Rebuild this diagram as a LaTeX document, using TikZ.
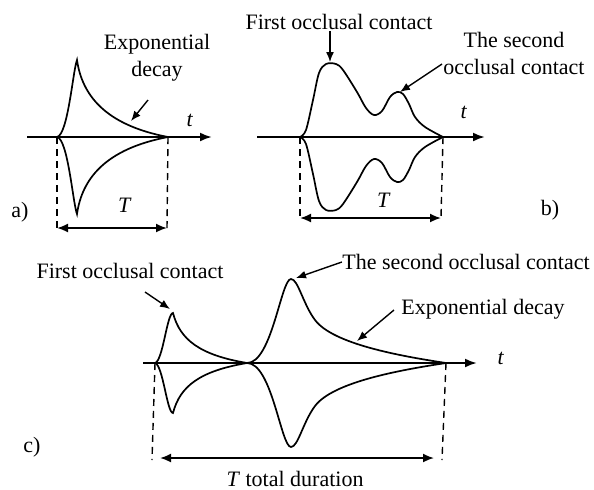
\documentclass[tikz,border=0pt]{standalone}
\usepackage{fontspec}
\setmainfont{Liberation Serif}
\usetikzlibrary{arrows.meta,positioning,calc}

\begin{document}
\begin{tikzpicture}[
      x=0.5pt, y=-0.5pt,
      every node/.style={font=\fontsize{11}{13.5}\selectfont, inner sep=0pt, align=center},
      axis/.style={-{Latex[length=6pt,width=4.5pt]}, line width=1.1pt},
      sig/.style={line width=0.85pt},
      guide/.style={dashed, dash pattern=on 3.5pt off 2.5pt, line width=0.7pt},
      span/.style={{Latex[length=5.5pt,width=4.5pt]}-{Latex[length=5.5pt,width=4.5pt]}, line width=0.9pt},
      note/.style={-{Latex[length=5pt,width=4pt]}, line width=0.7pt}
  ]
    \useasboundingbox (0,0) rectangle (594,489);

    % a) single contact
    \coordinate (a0) at (27,137);
    \coordinate (a1) at (212,137);
    \coordinate (aS) at (57,137);
    \coordinate (aE) at (168,137);
    \draw[axis] (a0) -- (a1);
    \foreach \m in {0,1}{
      \begin{scope}[shift={(0,274*\m)}, yscale={1-2*\m}]
        \draw[sig] (aS) .. controls (68,135) and (73,70) .. (77,60)
                        .. controls (82,95) and (105,125) .. (aE);
      \end{scope}
    }
    \coordinate (aSb) at (57,228);
    \coordinate (aEb) at (167,228);
    \draw[guide] (aS) -- (aSb);
    \draw[guide] (aE) -- (aEb);
    \draw[span] (aSb) -- (aEb);
    \node (aT) at (125,205) {\textit{T}};
    \node (at) at (190,120) {\textit{t}};
    \node (alab) at (20,212) {a)};
    \node (adec) at (157,58) {Exponential\\decay};
    \coordinate (adecpt) at (131,121);
    \draw[note] (148,100) -- (adecpt);

    % b) two contacts
    \coordinate (b0) at (257,137);
    \coordinate (b1) at (485,137);
    \coordinate (bS) at (300,137);
    \coordinate (bE) at (443,137);
    \draw[axis] (b0) -- (b1);
    \foreach \m in {0,1}{
      \begin{scope}[shift={(0,274*\m)}, yscale={1-2*\m}]
        \draw[sig] plot[smooth, tension=0.55] coordinates {
          (bS) (306,130) (313,100) (319,73) (326,64) (336,64) (343,70)
          (357,92) (366,108) (374,115) (382,111) (390,97) (397,92)
          (403,94) (409,104) (415,117) (425,127) (bE)};
      \end{scope}
    }
    \coordinate (bSb) at (300,218);
    \coordinate (bEb) at (441,218);
    \draw[guide] (bS) -- (bSb);
    \draw[guide] (bE) -- (bEb);
    \draw[span] (bSb) -- (bEb);
    \node (bT) at (384,200) {\textit{T}};
    \node (bt) at (464,112) {\textit{t}};
    \node (blab) at (550,210) {b)};
    \node (bfirst) at (339,22) {First occlusal contact};
    \node (bsec) at (514,53) {The second\\occlusal contact};
    \coordinate (bfirstpt) at (330,62);
    \coordinate (bsecpt) at (400,92);
    \draw[note] (330,31) -- (bfirstpt);
    \draw[note] (442,64) -- (bsecpt);

    % c) two contacts, total duration
    \coordinate (c0) at (143,363);
    \coordinate (c1) at (477,363);
    \coordinate (cS) at (155,363);
    \coordinate (cM) at (247,363);
    \coordinate (cE) at (446,363);
    \draw[axis] (c0) -- (c1);
    \foreach \m in {0,1}{
      \begin{scope}[shift={(0,726*\m)}, yscale={1-2*\m}]
        \draw[sig] (cS) .. controls (163,361) and (167,313) .. (173,313)
                        .. controls (180,340) and (200,355) .. (cM)
                        .. controls (272,363) and (281,279) .. (291,279)
                        .. controls (298,279) and (303,304) .. (315,320)
                        .. controls (333,344) and (400,356) .. (cE);
      \end{scope}
    }
    \coordinate (cSb) at (152,460);
    \coordinate (cEb) at (442,460);
    \draw[guide] (cS) -- (cSb);
    \draw[guide] (cE) -- (cEb);
    \draw[span] (160,458) -- (434,458);
    \node (cT) at (295,479) {\textit{T} total duration};
    \node (ct) at (501,358) {\textit{t}};
    \node (clab) at (32,447) {c)};
    \node (cfirst) at (130,271) {First occlusal contact};
    \node (csec) at (466,262) {The second occlusal contact};
    \node (cdec) at (483,309) {Exponential decay};
    \coordinate (cfirstpt) at (170,309);
    \coordinate (csecpt) at (296,278);
    \coordinate (cdecpt) at (357,341);
    \draw[note] (145,292) -- (cfirstpt);
    \draw[note] (csec.west) -- (csecpt);
    \draw[note] (394,310) -- (cdecpt);
  \end{tikzpicture}
\end{document}
